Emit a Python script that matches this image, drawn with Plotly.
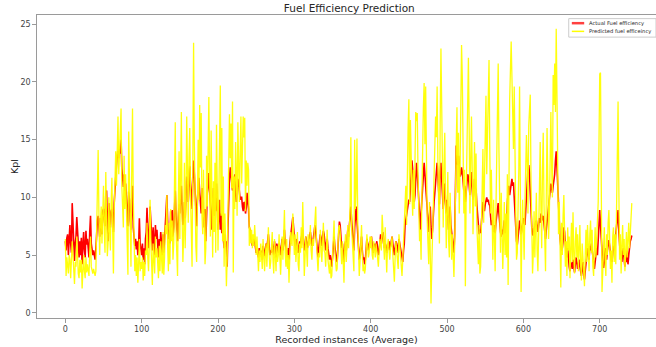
import plotly.graph_objects as go

# Actual fuel efficiency (Kpl) per recorded instance
actual = [
    6.2, 5.4, 6.5, 6.8, 5.0, 6.3, 7.6, 6.0, 5.2, 9.5, 7.8, 5.6, 4.5, 6.0, 6.6, 8.3, 7.0, 5.5, 4.8, 6.2,
    5.0, 6.5, 4.2, 5.8, 7.0, 5.5, 4.8, 7.1, 5.9, 6.4, 5.2, 4.8, 7.0, 8.4, 6.0, 5.5, 5.0, 5.4, 4.9, 4.6,
    5.5, 7.0, 8.0, 8.4, 7.2, 6.6, 8.2, 7.6, 6.8, 8.8, 9.0, 8.2, 7.5, 10.2, 10.6, 8.0, 6.2, 9.5, 8.5, 7.4,
    8.8, 9.0, 8.4, 7.0, 9.5, 11.0, 12.2, 12.8, 13.6, 14.0, 13.4, 14.2, 13.8, 15.0, 12.5, 11.6, 10.9, 12.0, 10.6, 11.2,
    10.0, 8.4, 7.5, 10.5, 9.8, 8.0, 7.2, 9.4, 11.0, 7.4, 6.6, 5.8, 6.4, 5.5, 6.2, 5.0, 5.8, 8.2, 6.0, 5.4,
    5.0, 6.0, 4.6, 5.6, 4.2, 6.4, 7.0, 9.1, 7.2, 5.6, 6.8, 9.2, 8.0, 6.2, 5.4, 7.4, 6.0, 5.0, 7.6, 6.4,
    7.2, 5.8, 4.8, 6.4, 5.6, 7.0, 6.2, 5.0, 6.8, 5.2, 6.4, 7.6, 8.6, 10.2, 8.0, 6.4, 7.2, 6.0, 8.8, 7.4,
    8.9, 6.6, 7.4, 8.6, 10.6, 8.4, 7.0, 6.2, 8.2, 9.4, 8.6, 10.0, 11.0, 9.2, 7.6, 8.0, 9.6, 8.2, 10.4, 11.8,
    11.4, 9.6, 10.8, 12.7, 11.2, 10.2, 9.0, 11.6, 13.2, 12.0, 10.8, 9.4, 7.5, 9.8, 11.0, 11.7, 10.4, 9.5, 8.6, 10.8,
    10.1, 8.8, 7.4, 9.0, 6.2, 8.6, 10.4, 11.0, 12.1, 10.6, 9.4, 8.8, 7.2, 9.6, 10.8, 8.4, 9.2, 8.8, 11.2, 9.6,
    7.2, 8.4, 9.8, 7.2, 8.6, 6.9, 7.8, 6.4, 5.6, 6.8, 5.7, 6.2, 4.0, 7.4, 10.4, 11.6, 12.6, 11.8, 11.2, 10.6,
    10.8, 11.8, 12.0, 10.4, 9.6, 10.8, 11.6, 11.2, 10.4, 9.8, 10.0, 10.0, 9.2, 8.8, 9.6, 9.5, 8.6, 9.1, 10.4, 9.8,
    9.0, 7.4, 7.2, 6.4, 6.2, 5.8, 6.0, 6.4, 6.2, 5.6, 5.2, 5.4, 5.0, 4.8, 5.6, 5.0, 5.4, 5.2, 4.6, 5.8,
    5.2, 4.9, 5.6, 6.0, 5.6, 6.4, 6.8, 5.8, 5.0, 5.4, 5.2, 6.0, 5.6, 5.0, 6.2, 5.4, 4.8, 6.0, 5.6, 5.2,
    6.0, 5.6, 5.0, 5.8, 6.4, 5.4, 6.2, 7.2, 6.0, 5.6, 5.2, 4.8, 5.6, 4.6, 6.0, 6.6, 7.4, 7.8, 8.3, 7.4,
    6.2, 5.8, 5.4, 6.4, 6.0, 5.2, 5.6, 6.2, 6.0, 6.4, 6.8, 7.2, 6.0, 5.4, 5.8, 6.6, 6.2, 5.6, 6.0, 6.4,
    6.6, 7.0, 6.4, 5.8, 6.0, 6.6, 7.2, 7.6, 7.0, 6.2, 5.4, 4.8, 5.6, 6.0, 6.8, 6.4, 5.8, 6.6, 7.1, 6.8,
    6.2, 5.4, 6.0, 6.4, 5.6, 5.2, 4.6, 5.0, 4.2, 4.0, 4.8, 6.2, 6.6, 5.8, 5.0, 4.6, 4.4, 5.6, 7.0, 7.9,
    7.6, 6.2, 5.6, 6.0, 5.0, 4.4, 5.6, 6.2, 5.4, 6.4, 7.2, 6.6, 7.8, 8.6, 9.2, 8.0, 6.8, 6.0, 5.4, 7.4,
    8.4, 9.2, 8.0, 6.4, 5.2, 4.6, 5.0, 6.2, 6.6, 5.4, 4.6, 4.8, 4.2, 4.6, 5.8, 6.4, 6.0, 5.4, 5.8, 6.2,
    6.0, 6.6, 5.8, 5.2, 5.6, 6.0, 5.4, 5.8, 6.2, 5.6, 5.0, 5.4, 6.4, 6.8, 6.0, 6.6, 7.0, 6.4, 5.6, 6.0,
    5.8, 5.2, 5.6, 6.0, 6.2, 5.4, 5.8, 6.4, 6.6, 6.0, 5.4, 5.0, 5.6, 6.2, 6.0, 5.6, 5.2, 6.4, 6.0, 5.6,
    5.2, 4.8, 4.4, 5.4, 6.0, 7.6, 8.0, 8.4, 9.0, 9.4, 9.8, 9.6, 10.6, 11.8, 13.2, 12.4, 10.6, 9.6, 10.2, 11.8,
    13.0, 12.2, 10.8, 9.2, 8.0, 7.2, 8.6, 9.8, 11.2, 12.4, 13.0, 12.0, 11.0, 9.6, 8.4, 7.6, 7.0, 8.4, 9.2, 7.4,
    6.4, 7.2, 8.8, 9.6, 10.4, 11.6, 12.4, 13.0, 11.8, 10.6, 9.4, 12.2, 13.0, 11.6, 10.2, 9.0, 10.4, 11.2, 9.6, 8.6,
    9.8, 8.4, 7.2, 8.0, 9.2, 7.6, 6.9, 6.0, 5.4, 5.2, 6.8, 10.6, 14.5, 13.4, 12.8, 13.6, 12.4, 11.8, 12.0, 12.6,
    12.2, 11.4, 10.6, 11.0, 9.6, 10.4, 11.2, 12.0, 11.8, 10.8, 10.2, 11.4, 12.2, 10.6, 9.8, 10.4, 11.6, 10.8, 10.7, 9.4,
    8.6, 7.4, 6.8, 7.2, 6.9, 7.8, 8.6, 9.6, 9.2, 8.8, 9.4, 9.8, 10.0, 9.6, 9.8, 9.4, 9.3, 8.4, 7.6, 8.0,
    7.4, 7.0, 7.6, 6.9, 7.8, 8.4, 9.2, 9.5, 8.6, 7.4, 7.0, 6.6, 7.2, 6.8, 7.4, 8.0, 6.9, 7.4, 8.2, 9.6,
    10.4, 11.0, 10.2, 10.8, 11.2, 11.6, 11.0, 11.3, 10.0, 8.4, 7.0, 6.2, 5.9, 6.4, 7.2, 8.0, 7.6, 6.8, 7.2, 7.6,
    8.2, 7.8, 7.6, 8.8, 10.2, 11.6, 12.4, 12.8, 12.1, 10.4, 8.6, 7.4, 6.8, 6.7, 7.2, 7.6, 7.8, 8.0, 7.4, 7.0,
    7.6, 8.2, 7.8, 8.6, 8.4, 8.0, 8.4, 7.8, 7.0, 6.4, 7.2, 8.0, 8.2, 9.0, 9.8, 10.6, 11.2, 10.8, 10.4, 11.0,
    11.6, 12.0, 13.2, 14.0, 12.6, 10.8, 9.0, 7.6, 6.4, 5.8, 5.4, 5.6, 6.2, 7.4, 7.0, 6.0, 5.4, 4.8, 5.6, 4.6,
    4.0, 3.6, 4.4, 4.2, 3.8, 4.6, 4.0, 3.5, 4.2, 4.8, 4.4, 3.8, 4.2, 4.6, 4.0, 3.6, 3.2, 3.8, 4.4, 3.4,
    2.9, 3.6, 4.4, 5.0, 5.6, 5.2, 4.6, 5.8, 5.4, 6.0, 5.6, 5.0, 4.4, 3.8, 4.6, 5.2, 5.6, 5.0, 6.4, 8.0,
    8.9, 7.6, 6.0, 4.8, 4.2, 3.9, 4.4, 5.6, 5.0, 4.6, 5.4, 6.0, 6.3, 5.8, 5.0, 4.6, 4.4, 5.2, 5.8, 5.4,
    6.0, 6.6, 7.4, 8.2, 8.9, 7.0, 5.6, 5.0, 5.4, 4.4, 5.2, 5.6, 4.6, 4.0, 4.8, 4.4, 5.4, 4.2, 5.0, 5.8,
    6.2, 6.4, 6.7,
]

# Model-predicted fuel efficiency (Kpl) per recorded instance
predicted = [
    6.4, 3.2, 4.8, 4.0, 3.4, 5.0, 4.6, 3.0, 4.2, 6.2, 5.0, 3.6, 2.5, 4.4, 4.0, 6.6, 4.8, 3.4, 3.0, 4.6,
    3.5, 4.6, 2.1, 3.4, 5.0, 3.6, 3.0, 4.8, 3.5, 4.2, 3.8, 3.2, 5.2, 6.6, 4.0, 3.6, 3.4, 3.8, 3.3, 3.2,
    3.6, 6.5, 9.8, 14.1, 8.5, 5.0, 7.8, 9.2, 6.0, 10.8, 11.0, 7.2, 5.2, 12.2, 9.0, 4.9, 6.0, 10.0, 7.0, 5.4,
    9.5, 11.7, 7.2, 3.4, 8.6, 12.6, 14.0, 11.0, 15.0, 17.0, 12.0, 14.2, 16.8, 17.7, 11.0, 8.2, 7.4, 13.6, 9.0, 12.0,
    9.0, 6.4, 3.3, 15.7, 11.0, 6.0, 4.0, 12.4, 17.7, 10.0, 5.2, 3.6, 5.0, 3.2, 4.8, 2.6, 4.2, 6.4, 3.6, 4.4,
    3.8, 4.8, 2.8, 4.4, 3.2, 5.4, 5.0, 7.8, 4.8, 3.6, 5.8, 9.8, 6.2, 4.2, 2.4, 6.0, 4.4, 3.4, 6.6, 4.8,
    5.6, 4.0, 3.0, 5.8, 3.6, 6.2, 4.6, 3.4, 7.0, 3.3, 4.8, 7.6, 6.8, 10.2, 5.8, 3.6, 7.8, 4.2, 9.0, 6.2,
    8.0, 4.6, 6.0, 9.8, 16.5, 7.2, 5.0, 3.2, 9.6, 14.0, 6.4, 12.0, 17.4, 8.2, 4.4, 6.8, 13.0, 5.6, 9.4, 17.0,
    12.0, 7.8, 13.4, 16.0, 10.2, 6.4, 4.0, 12.8, 23.4, 14.6, 9.0, 5.7, 4.4, 11.2, 15.0, 9.8, 18.0, 12.6, 17.3, 8.4,
    6.8, 12.4, 8.0, 4.2, 5.6, 13.6, 9.2, 14.4, 18.7, 12.0, 6.6, 15.8, 9.0, 4.8, 11.4, 7.0, 13.0, 5.2, 16.3, 10.4,
    5.4, 9.6, 14.2, 19.7, 8.4, 16.0, 6.2, 11.8, 4.0, 8.6, 6.0, 2.3, 4.6, 9.0, 14.6, 17.2, 13.4, 16.4, 10.8, 18.3,
    3.5, 11.8, 9.0, 14.8, 12.0, 8.4, 16.5, 12.4, 9.6, 14.0, 17.0, 11.2, 13.4, 17.0, 15.2, 16.9, 8.8, 13.2, 11.0, 13.0,
    12.4, 5.8, 7.4, 6.0, 7.2, 5.6, 6.8, 5.8, 7.6, 6.2, 5.0, 6.6, 4.2, 3.6, 5.4, 4.4, 6.0, 4.0, 3.8, 6.4,
    4.6, 3.6, 5.0, 6.0, 4.0, 5.6, 7.4, 5.0, 3.8, 4.4, 6.2, 7.0, 4.6, 3.4, 6.4, 4.6, 3.6, 5.8, 4.4, 5.0,
    6.8, 4.8, 3.3, 5.2, 6.6, 4.6, 7.0, 8.9, 5.2, 4.0, 6.4, 3.8, 5.0, 2.6, 4.8, 7.0, 6.2, 5.8, 8.6, 6.0,
    5.0, 6.8, 4.4, 5.6, 7.0, 4.2, 3.6, 6.0, 5.2, 7.4, 5.6, 9.6, 6.4, 3.2, 4.8, 6.6, 5.4, 4.0, 6.8, 5.8,
    6.0, 7.6, 5.4, 4.6, 6.4, 5.8, 6.8, 7.8, 9.2, 6.0, 4.2, 3.6, 5.2, 4.8, 7.2, 5.6, 4.4, 6.0, 7.8, 5.4,
    5.2, 4.0, 6.6, 7.2, 4.6, 3.8, 3.4, 4.6, 3.0, 3.2, 5.0, 6.8, 8.0, 5.4, 4.2, 3.6, 3.8, 6.2, 7.4, 7.6,
    7.0, 5.4, 4.2, 6.2, 4.0, 2.6, 5.6, 6.8, 4.4, 6.6, 7.6, 5.6, 6.8, 9.4, 15.2, 7.4, 5.8, 4.4, 3.6, 15.0,
    9.0, 11.0, 15.1, 8.0, 5.2, 3.2, 4.4, 7.4, 7.6, 5.0, 3.6, 4.2, 3.4, 3.8, 5.6, 6.8, 5.8, 4.8, 5.2, 6.6,
    5.6, 6.6, 5.0, 4.6, 6.2, 5.4, 4.8, 6.0, 5.6, 4.8, 4.0, 5.2, 6.4, 6.0, 5.4, 8.5, 7.0, 6.2, 4.6, 7.4,
    5.0, 3.5, 5.8, 6.4, 5.4, 4.6, 5.6, 6.2, 6.6, 5.0, 3.6, 2.7, 4.8, 6.2, 5.4, 4.4, 3.8, 6.8, 6.0, 4.8,
    3.6, 3.2, 4.6, 6.4, 8.0, 9.6, 11.0, 7.6, 14.2, 16.0, 18.5, 9.4, 16.7, 12.0, 10.6, 8.4, 12.4, 9.0, 14.8, 17.4,
    16.6, 17.3, 12.0, 8.4, 6.2, 7.2, 4.6, 10.0, 15.4, 17.8, 19.9, 14.6, 19.6, 12.0, 8.0, 6.0, 4.2, 9.6, 5.6, 0.8,
    4.0, 6.6, 9.4, 12.0, 14.6, 17.0, 15.2, 19.6, 13.0, 8.4, 6.0, 16.4, 22.9, 18.0, 11.6, 7.4, 12.8, 15.6, 9.8, 5.6,
    8.8, 12.2, 6.4, 4.8, 10.4, 8.2, 4.6, 6.8, 3.6, 3.1, 5.8, 12.6, 14.5, 17.8, 10.4, 15.6, 8.6, 12.2, 18.8, 23.2,
    20.4, 14.0, 8.6, 12.4, 2.3, 9.8, 15.0, 18.6, 22.1, 16.0, 8.6, 13.2, 17.0, 12.4, 6.8, 10.6, 14.8, 9.2, 13.8, 7.6,
    5.0, 4.2, 7.6, 3.4, 4.0, 8.2, 11.4, 14.2, 7.8, 12.6, 16.4, 18.8, 12.0, 14.6, 19.4, 21.9, 14.0, 8.6, 12.4, 6.0,
    4.6, 9.8, 5.4, 3.6, 8.8, 14.6, 18.2, 21.6, 14.0, 8.0, 5.2, 10.4, 7.0, 3.8, 6.4, 9.6, 5.0, 8.6, 4.8, 12.0,
    2.4, 13.6, 18.4, 21.0, 23.5, 20.4, 16.0, 14.2, 19.6, 12.0, 8.4, 4.6, 5.2, 9.0, 12.4, 19.6, 10.0, 1.8, 6.6, 9.8,
    7.2, 4.6, 9.4, 12.6, 15.4, 13.0, 8.6, 16.2, 17.6, 18.9, 11.4, 6.0, 3.4, 5.2, 8.8, 4.8, 7.6, 10.4, 5.4, 3.6,
    6.8, 11.4, 14.8, 9.0, 5.6, 12.4, 15.6, 9.4, 4.2, 3.6, 10.2, 16.0, 11.2, 6.4, 8.6, 14.2, 17.4, 12.8, 10.0, 20.6,
    18.0, 21.6, 17.4, 24.6, 18.0, 13.4, 6.8, 9.6, 4.2, 2.2, 7.8, 5.0, 8.4, 10.2, 7.0, 4.0, 6.2, 3.2, 7.4, 5.4,
    6.6, 3.0, 5.6, 7.8, 4.4, 8.7, 5.0, 3.4, 6.2, 7.4, 4.8, 6.8, 3.6, 5.6, 7.6, 4.2, 2.8, 6.0, 4.6, 3.0,
    2.3, 5.0, 7.2, 4.4, 7.6, 6.0, 3.6, 6.8, 8.0, 5.2, 7.2, 4.0, 3.2, 5.6, 7.4, 4.8, 6.6, 8.2, 9.6, 14.6,
    20.7, 20.8, 12.0, 1.8, 3.6, 5.2, 7.4, 4.6, 3.2, 6.8, 5.0, 7.8, 8.9, 6.4, 3.8, 5.4, 2.6, 6.6, 7.4, 4.4,
    6.8, 4.2, 9.4, 12.6, 18.3, 11.0, 4.6, 6.8, 3.4, 5.8, 7.6, 5.0, 6.4, 3.6, 5.6, 7.0, 4.8, 6.0, 7.8, 5.6,
    6.8, 8.0, 9.5,
]

y_ticks = [0, 5, 10, 15, 20, 25]
x_ticks = [0, 100, 200, 300, 400, 500, 600, 700]

FONT = "DejaVu Sans"
TEXT = "#262626"
SPINE = "#9a9a9a"

fig = go.Figure()
fig.add_trace(go.Scatter(
    x=list(range(len(actual))), y=actual, mode="lines",
    name="Actual Fuel efficiency",
    line=dict(color="red", width=1.6), showlegend=False,
))
fig.add_trace(go.Scatter(
    x=list(range(len(predicted))), y=predicted, mode="lines",
    name="Predicted fuel efficeincy",
    line=dict(color="#ffff00", width=1.3), opacity=0.95, showlegend=False,
))

# Legend box drawn in paper space
legend_shapes = [
    dict(type="rect", xref="paper", yref="paper", x0=0.859, x1=1.0, y0=0.927, y1=0.988,
         line=dict(color="#cccccc", width=1), fillcolor="rgba(255,255,255,0.85)", layer="above"),
    dict(type="line", xref="paper", yref="paper", x0=0.864, x1=0.884, y0=0.973, y1=0.973,
         line=dict(color="#ff4040", width=2.5), layer="above"),
    dict(type="line", xref="paper", yref="paper", x0=0.864, x1=0.884, y0=0.946, y1=0.946,
         line=dict(color="#ffff00", width=1.5), layer="above"),
]
legend_labels = [
    dict(text="Actual Fuel efficiency", x=0.889, y=0.973),
    dict(text="Predicted fuel efficeincy", x=0.889, y=0.946),
]
annotations = [
    dict(text=t["text"], xref="paper", yref="paper", x=t["x"], y=t["y"],
         xanchor="left", yanchor="middle", showarrow=False,
         font=dict(family=FONT, size=5.2, color=TEXT))
    for t in legend_labels
]

fig.update_layout(
    width=656, height=347,
    margin=dict(l=37, r=0, t=15, b=29),
    paper_bgcolor="white", plot_bgcolor="white",
    font=dict(family=FONT, color=TEXT),
    title=dict(text="Fuel Efficiency Prediction", x=0.5325, xanchor="center",
               y=0.975, yanchor="middle", font=dict(family=FONT, size=10.5, color=TEXT)),
    xaxis=dict(
        range=[-37.1, 773.7], tickvals=x_ticks, ticks="outside", ticklen=3.5,
        tickcolor=SPINE, tickfont=dict(size=8, color="#444"),
        showgrid=False, zeroline=False, showline=True, linecolor=SPINE, linewidth=1.4,
        mirror=True,
        title=dict(text="Recorded instances (Average)", standoff=1,
                   font=dict(family=FONT, size=9.5, color=TEXT)),
    ),
    yaxis=dict(
        range=[-0.45, 25.8], tickvals=y_ticks, ticks="outside", ticklen=3.5,
        tickcolor=SPINE, tickfont=dict(size=8, color="#444"),
        showgrid=False, zeroline=False, showline=True, linecolor=SPINE, linewidth=1.4,
        mirror=False,
        title=dict(text="Kpl", standoff=0, font=dict(family=FONT, size=9.5, color=TEXT)),
    ),
    shapes=legend_shapes,
    annotations=annotations,
)

fig.write_html("out.html")
